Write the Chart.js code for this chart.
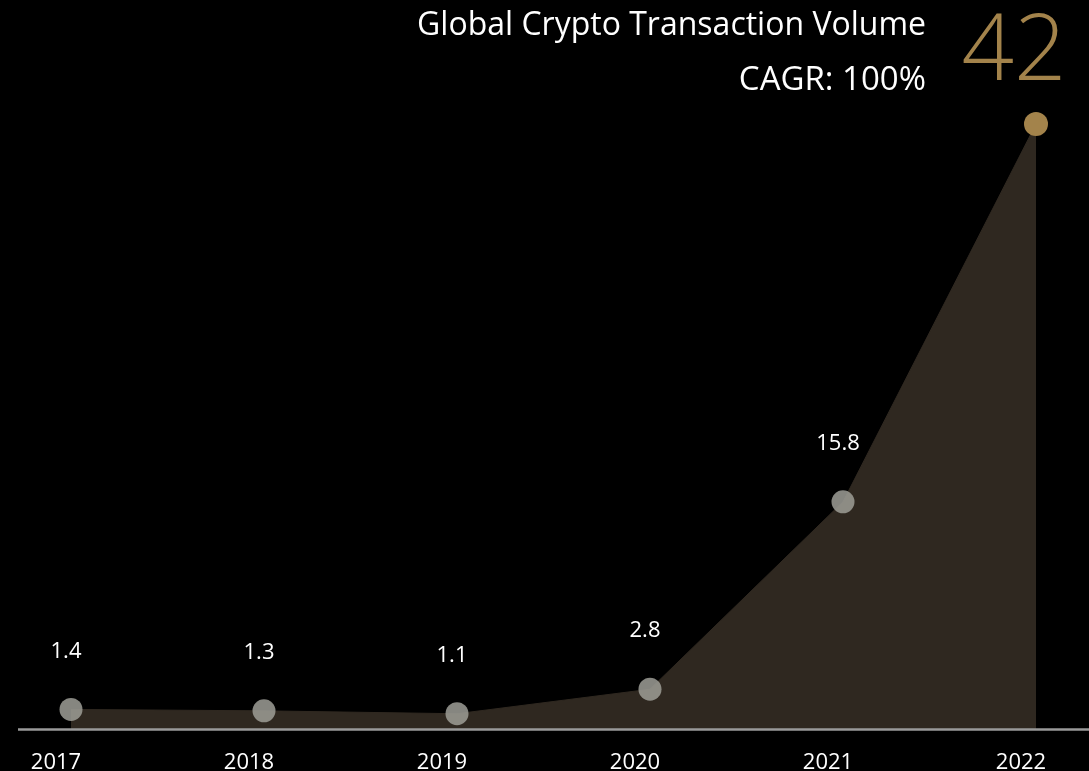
<!DOCTYPE html>
<html>
<head>
<meta charset="utf-8">
<title>Global Crypto Transaction Volume</title>
<script src="https://cdn.jsdelivr.net/npm/chart.js@4/dist/chart.umd.min.js"></script>
<style>
  html, body { margin: 0; padding: 0; background: #000; }
  #wrap { position: relative; width: 1089px; height: 771px; }
</style>
</head>
<body>
<div id="wrap"><canvas id="chart-volume"></canvas></div>
<script>
// data
const years = ['2017', '2018', '2019', '2020', '2021', '2022'];
const volume = [1.4, 1.3, 1.1, 2.8, 15.8, 42];
const titleText = 'Global Crypto Transaction Volume';
const cagrText = 'CAGR: 100%';
const headlineValue = '42';

const FONT = '"Open Sans", "Noto Sans", sans-serif';
const GOLD = '#a3834b';
const AREA = '#2f2820';
const DOT = 'rgba(157, 157, 150, 0.85)';

// baseline under the area, running across nearly the full width
const baselinePlugin = {
  id: 'baseline',
  afterDatasetsDraw(chart) {
    const { ctx, chartArea, width } = chart;
    ctx.save();
    ctx.strokeStyle = '#9a9a9a';
    ctx.lineWidth = 2.5;
    ctx.beginPath();
    ctx.moveTo(18, chartArea.bottom);
    ctx.lineTo(width, chartArea.bottom);
    ctx.stroke();
    ctx.restore();
  }
};

// value labels above every point but the last one
const valueLabelPlugin = {
  id: 'valueLabels',
  afterDatasetsDraw(chart) {
    const { ctx } = chart;
    const meta = chart.getDatasetMeta(0);
    ctx.save();
    ctx.fillStyle = '#ffffff';
    ctx.font = '22px ' + FONT;
    ctx.textAlign = 'center';
    ctx.textBaseline = 'middle';
    meta.data.forEach((pt, i) => {
      if (i === volume.length - 1) return;
      ctx.fillText(String(volume[i]), pt.x - 5, pt.y - 58);
    });
    ctx.restore();
  }
};

// title block in the top right corner
const headerPlugin = {
  id: 'header',
  afterDraw(chart) {
    const { ctx } = chart;
    ctx.save();
    ctx.fillStyle = '#ffffff';
    ctx.textAlign = 'right';
    ctx.textBaseline = 'alphabetic';
    ctx.font = '32px ' + FONT;
    ctx.fillText(titleText, 926, 35);
    ctx.font = '33px ' + FONT;
    ctx.fillText(cagrText, 926, 90);
    ctx.fillStyle = GOLD;
    ctx.textAlign = 'center';
    ctx.font = '300 92px ' + FONT;
    ctx.fillText(headlineValue, 1014, 80);
    ctx.restore();
  }
};

const ctx = document.getElementById('chart-volume').getContext('2d');

window.volumeChart = new Chart(ctx, {
  type: 'line',
  data: {
    labels: years,
    datasets: [{
      data: volume,
      fill: 'origin',
      backgroundColor: AREA,
      borderColor: AREA,
      borderWidth: 1,
      tension: 0,
      clip: false,
      pointRadius: volume.map((v, i) => i === volume.length - 1 ? 12 : 11.5),
      pointHoverRadius: 12,
      pointBackgroundColor: volume.map((v, i) => i === volume.length - 1 ? GOLD : DOT),
      pointBorderWidth: 0
    }]
  },
  options: {
    responsive: true,
    maintainAspectRatio: false,
    animation: false,
    layout: {
      padding: { left: 71, right: 53, top: 124, bottom: -25 }
    },
    plugins: {
      legend: { display: false },
      tooltip: { enabled: false }
    },
    scales: {
      x: {
        offset: false,
        grid: { display: false, drawTicks: false },
        border: { display: false },
        ticks: {
          color: '#ffffff',
          font: { family: FONT, size: 22 },
          padding: 20,
          labelOffset: -15,
          maxRotation: 0,
          autoSkip: false
        }
      },
      y: {
        display: false,
        min: 0,
        max: 42
      }
    }
  },
  plugins: [baselinePlugin, valueLabelPlugin, headerPlugin]
});
</script>
</body>
</html>
